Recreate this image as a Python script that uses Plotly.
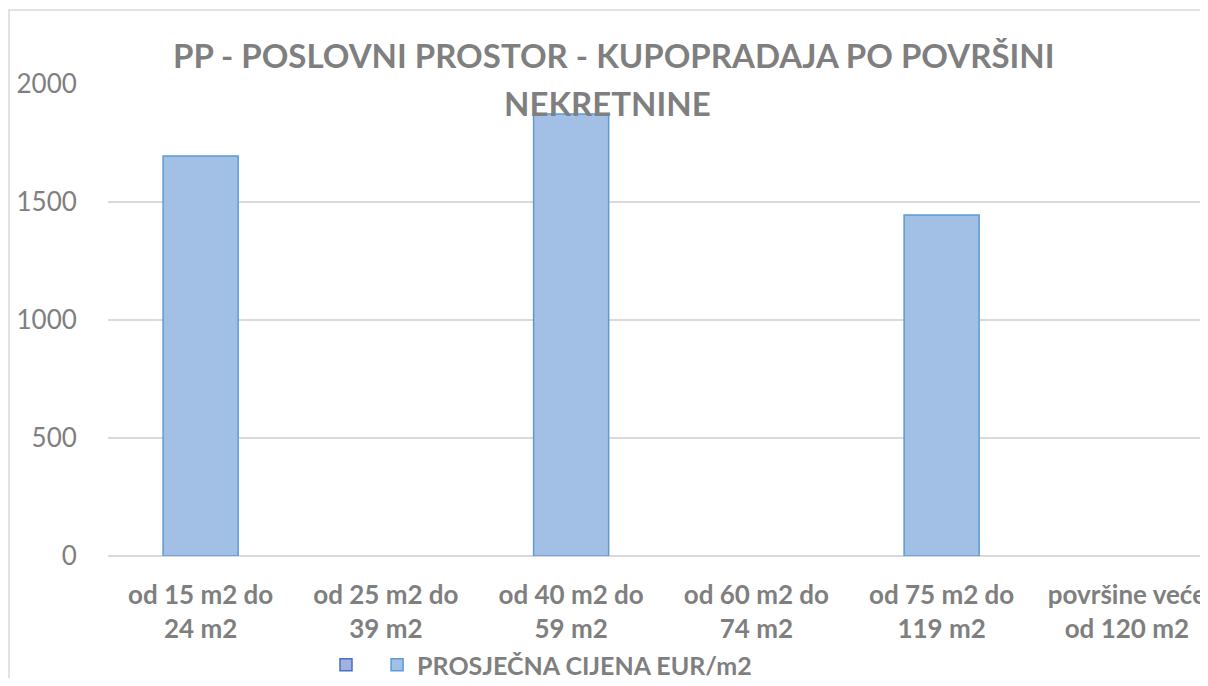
import plotly.graph_objects as go

categories = ["od 15 m2 do<br>24 m2", "od 25 m2 do<br>39 m2", "od 40 m2 do<br>59 m2",
              "od 60 m2 do<br>74 m2", "od 75 m2 do<br>119 m2", "površine veće<br>od 120 m2"]
series1_name = " "
series1_values = [None, None, None, None, None, None]
series2_name = "PROSJEČNA CIJENA EUR/m2"
series2_values = [1695, None, 1873, None, 1445, None]
y_ticks = [0, 500, 1000, 1500, 2000]
title_line1 = "PP - POSLOVNI PROSTOR - KUPOPRADAJA PO POVRŠINI"
title_line2 = "NEKRETNINE"

GREY = "#7f7f7f"
FONT = "Lato"

W, H = 1192, 670
L, T, PH = 100, 76, 472
PW = W - L
PB = T + PH  # plot bottom in figure px


def px_x(xp):
    return (xp - 8 - L) / PW


def px_y(yp):
    return (PB - (yp - 8)) / PH


fig = go.Figure()
fig.add_trace(go.Bar(x=categories, y=series1_values, name=series1_name,
                     marker=dict(color="#a3b1df", line=dict(color="#4472c4", width=1.5)),
                     width=0.405))
fig.add_trace(go.Bar(x=categories, y=series2_values, name=f"<b>{series2_name}</b>",
                     marker=dict(color="#a2c0e5", line=dict(color="#5b9bd5", width=1.5)),
                     width=0.405))

fig.update_layout(
    width=W, height=H,
    margin=dict(l=L, r=0, t=T, b=H - PB),
    paper_bgcolor="white", plot_bgcolor="white",
    barmode="overlay",
    showlegend=True,
    font=dict(family=FONT, color=GREY),
    legend=dict(orientation="h", xref="container", yref="container",
                x=(326 - 8) / W, xanchor="left", y=1 - (665 - 8) / H, yanchor="middle",
                bgcolor="rgba(0,0,0,0)",
                font=dict(family=FONT, size=25, color=GREY, weight="bold"),
                itemwidth=30, traceorder="normal"),
    xaxis=dict(range=[-0.5, -0.5 + PW / 185.25], showgrid=False, showline=False, zeroline=False,
               automargin=False,
               tickfont=dict(family=FONT, size=26, color=GREY, weight="bold"),
               ticks="outside", ticklen=16, tickcolor="rgba(0,0,0,0)"),
    yaxis=dict(range=[0, 2000], tickvals=y_ticks, showgrid=True, gridcolor="#d9d9d9",
               gridwidth=1.5, zeroline=True, zerolinecolor="#d9d9d9", zerolinewidth=1.5,
               showline=False, automargin=False,
               tickfont=dict(family=FONT, size=26, color=GREY),
               ticks="outside", ticklen=25, tickcolor="rgba(0,0,0,0)"),
    annotations=[
        dict(text=title_line1, xref="paper", yref="paper", x=px_x(613),
             y=px_y(55), xanchor="center", yanchor="middle", showarrow=False,
             font=dict(family=FONT, size=33, color=GREY, weight="bold")),
        dict(text=title_line2, xref="paper", yref="paper", x=px_x(607),
             y=px_y(103), xanchor="center", yanchor="middle", showarrow=False,
             font=dict(family=FONT, size=33, color=GREY, weight="bold")),
    ],
    shapes=[
        dict(type="rect", xref="paper", yref="paper",
             x0=px_x(9), x1=1.2, y0=-0.5, y1=px_y(10),
             line=dict(color="#d9d9d9", width=1.5), fillcolor="rgba(0,0,0,0)", layer="below"),
    ],
)

fig.write_html("out.html")
